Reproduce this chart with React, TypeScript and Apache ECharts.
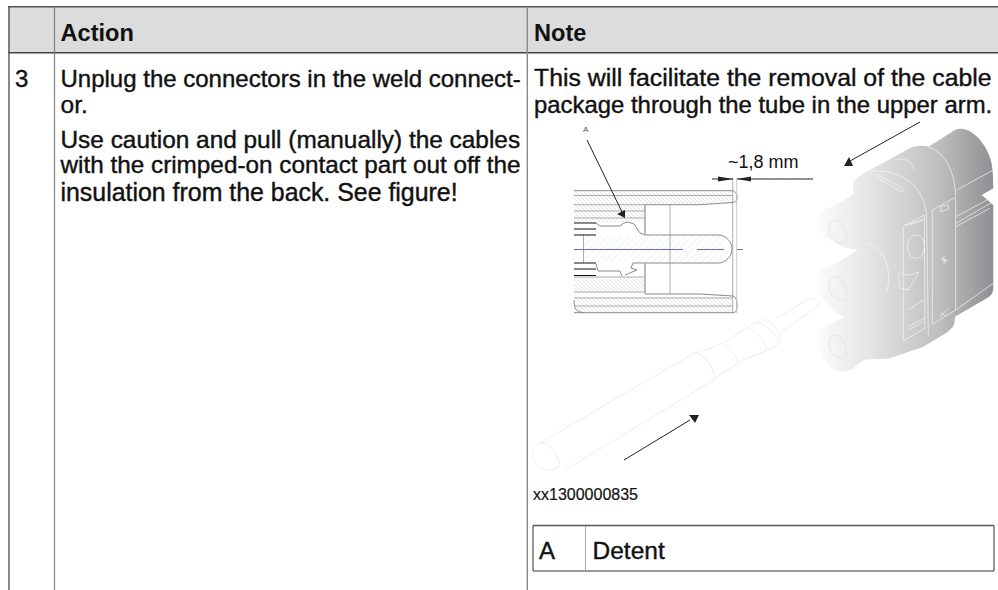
import React, { useEffect, useRef } from "react";
import * as echarts from "echarts";

const headerCells = ["Action", "Note"];
const stepNumber = "3";
const actionLines = [
  "Unplug the connectors in the weld connect-",
  "or.",
  "Use caution and pull (manually) the cables",
  "with the crimped-on contact part out off the",
  "insulation from the back. See figure!",
];
const noteLines = [
  "This will facilitate the removal of the cable",
  "package through the tube in the upper arm.",
];
const figureId = "xx1300000835";
const dimensionLabel = "~1,8 mm";
const calloutKey = "A";
const calloutValue = "Detent";

const FONT = '"Liberation Sans", Arial, sans-serif';
const C = (x: number, y: number) => `${(790 + x / 3).toFixed(1)} ${(110 + y / 3).toFixed(1)}`;
const curve = (a: number[], b: number[], c: number[]) => `C${C(a[0], a[1])} ${C(b[0], b[1])} ${C(c[0], c[1])}`;
const ln = (x: number, y: number) => `L${C(x, y)}`;
const mv = (x: number, y: number) => `M${C(x, y)}`;

function hatch(x0: number, y0: number, x1: number, y1: number, gap: number, dir: number) {
  let d = "";
  const w = x1 - x0;
  const h = y1 - y0;
  for (let c = gap / 2; c < w + h; c += gap) {
    const ax = Math.min(c, w);
    const ay = c - ax;
    const by = Math.min(c, h);
    const bx = c - by;
    const X = (v: number) => (dir > 0 ? x0 + v : x1 - v);
    d += `M${X(ax).toFixed(1)} ${(y0 + ay).toFixed(1)}L${X(bx).toFixed(1)} ${(y0 + by).toFixed(1)}`;
  }
  return d;
}

const bodyOutline =
  mv(190, 232) + curve([185, 215], [200, 200], [240, 180]) + ln(340, 125) + curve([370, 105], [400, 105], [415, 110]) +
  ln(495, 60) + curve([530, 45], [570, 80], [590, 120]) + curve([605, 150], [610, 170], [610, 235]) + ln(575, 255) + ln(610, 285) +
  ln(610, 535) + curve([610, 550], [600, 560], [590, 565]) + ln(495, 620) + ln(493, 640) + curve([490, 655], [470, 670], [450, 680]) +
  ln(400, 710) + ln(300, 745) + curve([270, 750], [240, 745], [220, 750]) + ln(190, 775) + curve([150, 800], [100, 780], [88, 700]) +
  curve([82, 670], [90, 650], [130, 638]) + ln(165, 620) + curve([110, 600], [85, 550], [85, 510]) + curve([85, 480], [100, 470], [130, 465]) +
  ln(205, 420) + curve([130, 410], [85, 370], [85, 335]) + curve([85, 310], [100, 292], [130, 290]) + ln(195, 250) +
  curve([190, 245], [187, 238], [190, 232]) + "Z";

const bodyDetails =
  mv(427, 300) + ln(497, 262) + ln(497, 600) + ln(427, 643) + "Z" +
  mv(340, 350) + ln(403, 315) + ln(405, 655) + ln(340, 693) + "Z" +
  mv(235, 185) + curve([330, 170], [410, 230], [410, 330]) + ln(415, 675) +
  mv(415, 110) + curve([470, 130], [495, 190], [497, 260]) +
  mv(500, 240) + ln(610, 180) + mv(497, 320) + ln(610, 260) + mv(497, 340) + ln(610, 275) + mv(497, 350) + ln(600, 295) + mv(497, 600) + ln(610, 520) +
  mv(353, 410) + curve([353, 385], [365, 375], [378, 375]) + curve([395, 375], [403, 390], [403, 410]) + curve([403, 435], [390, 445], [378, 445]) + curve([362, 445], [353, 430], [353, 410]) + "Z" +
  mv(230, 400) + curve([280, 410], [310, 480], [290, 545]) +
  mv(325, 490) + curve([335, 480], [345, 510], [385, 485]) + curve([380, 510], [360, 525], [355, 540]) + ln(330, 535) + "Z" +
  mv(320, 150) + curve([340, 140], [370, 155], [372, 180]) +
  mv(255, 190) + ln(330, 230) + curve([345, 245], [340, 250], [325, 240]) + ln(250, 195) +
  mv(450, 620) + ln(475, 595) + mv(452, 610) + ln(470, 618) + mv(452, 290) + ln(475, 285) + ln(475, 298) + ln(452, 305) + "Z" +
  mv(452, 450) + ln(473, 450) + mv(462, 438) + ln(462, 462) + mv(455, 442) + ln(470, 458) +
  mv(345, 345) + ln(400, 330) + ln(360, 345) + mv(355, 600) + ln(400, 570) + mv(355, 650) + ln(403, 625) + mv(355, 660) + ln(403, 635);

const lobeDetails =
  mv(117, 360) + curve([117, 330], [135, 325], [148, 335]) + curve([165, 350], [175, 385], [165, 400]) + curve([150, 405], [117, 390], [117, 360]) +
  mv(117, 530) + curve([117, 500], [135, 495], [148, 505]) + curve([165, 520], [175, 555], [165, 570]) + curve([150, 575], [117, 560], [117, 530]) +
  mv(117, 705) + curve([117, 675], [135, 670], [148, 680]) + curve([165, 695], [175, 730], [165, 745]) + curve([150, 750], [117, 735], [117, 705]);

const contactLines =
  "M540 443L696 352M565 470L714 380M696 352C708 358 716 372 714 380" +
  "M702 352L722 343M715 378L737 364M722 343C733 350 738 358 737 364" +
  "M725 342L747 328M737 362L766 351" +
  "M747 328C755 330 768 342 766 351M757 322C768 325 780 338 778 344M747 328L757 322M766 351L778 344" +
  "M762 320C772 318 782 333 780 343M777 318L807 300C815 296 820 300 819 305L780 333" +
  "M540 443C534 446 531 452 533 459C536 468 548 473 559 467C561 458 550 441 540 443Z";

const outlineDark =
  "M574 190.7L732 190.7C736 191 737 195 737 198C737 201 735 202.5 732 202.5L700 204.7L645 204.7" +
  "M574 312.7L733 312.7C736 312.7 737 310 737 306C737 300 736 297 733 296L700 294L645 294" +
  "M574 300C574 308 576 312 584 312.7" +
  "M596 223L600 226L620 226L624 223L628 222L634 224L640 233L645 235L718 235C726 235 732 242 732 249C732 256 726 263 718 263L633 263L631 268L637 270L625 275" +
  "M596 264L598 271L620 271L622 276";

const outlineThin =
  "M574 195.5L733 195.5M574 204.7L645 204.7M574 211L645 211M574 218L645 218M574 277L645 277M574 292L645 292M574 298L733 298M574 306L733 306" +
  "M670 204.7L670 294M583.5 235L583.5 263";

const outlineThick = "M645 204.7L645 235M645 263L645 294";

const blackLines = "M574 223L596 223M574 229L596 229M574 235L596 235M574 263L596 263M574 269L596 269M574 275.5L596 275.5";

const reg = (name: string, d: string) => echarts.graphic.registerShape(name, echarts.graphic.extendPath(d, {}));
reg("connectorBody", bodyOutline);
reg("connectorDetails", bodyDetails);
reg("lobeDetails", lobeDetails);
reg("contact", contactLines);
reg("outlineDark", outlineDark);
reg("outlineThin", outlineThin);
reg("outlineThick", outlineThick);
reg("blackLines", blackLines);
reg("hatchWall", hatch(574, 191, 733, 204, 4, -1) + hatch(574, 205, 645, 222, 4, -1) + hatch(574, 297, 733, 312, 4, -1) + hatch(574, 277, 645, 293, 4, -1));
reg("hatchPin", hatch(584, 236, 724, 262, 7, 1));

const T = (text: string, x: number, baseline: number, size: number, weight: any = "normal", boost = 0.4, fill = "#111") => ({
  type: "text",
  x,
  y: baseline - 0.3465 * size,
  style: {
    text,
    font: `${weight} ${size}px ${FONT}`,
    fill,
    stroke: boost ? fill : undefined,
    lineWidth: boost,
    textVerticalAlign: "middle",
  },
});
const L = (x1: number, y1: number, x2: number, y2: number, color: string, w: number) => ({
  type: "line",
  shape: { x1, y1, x2, y2 },
  style: { stroke: color, lineWidth: w },
});
const P = (points: number[][], fill = "#222") => ({ type: "polygon", shape: { points }, style: { fill } });

const actionSizes = [24, 24.5, 24.4, 24.3, 24.9];
const actionBaselines = [86.7, 112.7, 147.5, 173.3, 200.5];
const noteSizes = [24.8, 23.9];
const noteBaselines = [86, 112.3];

export default function App() {
  const ref = useRef<HTMLDivElement>(null);
  useEffect(() => {
    const chart = echarts.init(ref.current!, undefined, { renderer: "svg" });
    const shape = (type: string, style: any) => ({ type, x: 0, y: 0, style });
    const elements: any[] = [
      { type: "rect", shape: { x: 8, y: 7, width: 990, height: 46 }, style: { fill: "#dcdcdc" } },
      L(8, 6.8, 998, 6.8, "#555", 1.6),
      L(8, 52.8, 998, 52.8, "#444", 1.4),
      L(9, 6, 9, 590, "#555", 1.4),
      L(54.5, 7, 54.5, 590, "#808080", 1.2),
      L(527.3, 7, 527.3, 590, "#8a8a8a", 1.4),
      T(headerCells[0], 60.5, 41, 23.6, "bold", 0),
      T(headerCells[1], 534, 41, 23.6, "bold", 0),
      T(stepNumber, 15, 86.7, 24),
      ...actionLines.map((s, i) => T(s, 60.5, actionBaselines[i], actionSizes[i])),
      ...noteLines.map((s, i) => T(s, 534, noteBaselines[i], noteSizes[i])),

      shape("connectorBody", {
        fill: new echarts.graphic.LinearGradient(0, 0, 1, 0, [
          { offset: 0, color: "#fbfbfb" },
          { offset: 0.3, color: "#e4e4e5" },
          { offset: 0.7, color: "#bcbdbe" },
          { offset: 1, color: "#8e8f92" },
        ]),
      }),
      shape("connectorDetails", { fill: "none", stroke: "#f6f6f6", lineWidth: 0.7 }),
      shape("lobeDetails", { fill: "none", stroke: "#dcdcdc", lineWidth: 0.6 }),
      shape("contact", { fill: "none", stroke: "#e8e8e8", lineWidth: 0.8 }),

      shape("hatchWall", { fill: "none", stroke: "#c8c8c8", lineWidth: 0.5 }),
      shape("hatchPin", { fill: "none", stroke: "#d6d6d6", lineWidth: 0.5 }),
      shape("outlineThin", { fill: "none", stroke: "#8a8a8a", lineWidth: 0.7 }),
      shape("outlineDark", { fill: "none", stroke: "#8a8a8a", lineWidth: 1 }),
      shape("outlineThick", { fill: "none", stroke: "#aaa", lineWidth: 1.6 }),
      shape("blackLines", { fill: "none", stroke: "#111", lineWidth: 1.1 }),
      L(732.7, 178, 732.7, 313, "#999", 0.8),
      L(736.7, 178, 736.7, 313, "#bbb", 0.8),
      L(574, 249.5, 683, 249.5, "#5c76b5", 1),
      L(697, 249.5, 724, 249.5, "#5c76b5", 1),
      L(737, 249.5, 743, 249.5, "#5c76b5", 1),

      L(712, 179, 733, 179, "#222", 1),
      P([[733, 179], [718, 176.5], [718, 181.5]]),
      L(737, 179, 813, 179, "#222", 1),
      P([[737, 179], [751, 176.5], [751, 181.5]]),
      T(dimensionLabel, 728, 168, 18, "normal", 0),
      T(calloutKey, 583, 132, 8, "normal", 0, "#555"),
      L(587, 140, 623, 214, "#222", 1),
      P([[625, 218], [617, 214], [625, 210]]),
      L(920, 122, 850, 161, "#222", 1),
      P([[844, 166], [853, 166], [849, 157]]),
      L(624, 460, 690, 420, "#222", 1),
      P([[699, 415], [689, 415], [695, 423]]),

      T(figureId, 533, 500, 16, "normal", 0.2),

      { type: "rect", shape: { x: 533, y: 525.5, width: 461, height: 45.5 }, style: { fill: "none", stroke: "#333", lineWidth: 1 } },
      L(533, 525.5, 994, 525.5, "#555", 1.5),
      L(585.5, 526, 585.5, 571, "#aaa", 1),
      T(calloutKey, 539, 559, 24),
      T(calloutValue, 592.5, 559, 24.5),
    ];
    chart.setOption({ animation: false, graphic: { elements } });
    return () => chart.dispose();
  }, []);
  return (
    <div ref={ref} style={{ position: "absolute", left: 0, top: 0, width: 998, height: 590, background: "#fff" }} />
  );
}
